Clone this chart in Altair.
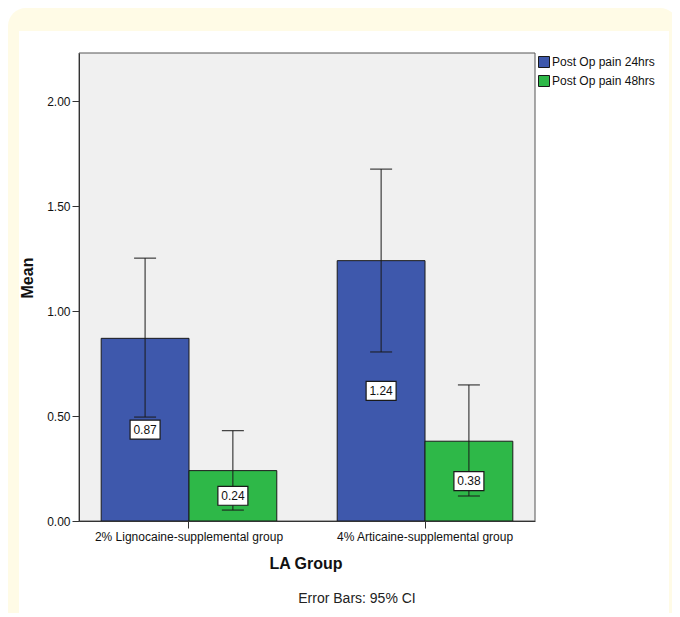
import altair as alt
import pandas as pd

groups = ["2% Lignocaine-supplemental group", "4% Articaine-supplemental group"]
series = ["Post Op pain 24hrs", "Post Op pain 48hrs"]
means_24 = [0.87, 1.24]
means_48 = [0.24, 0.38]
ci_low_24 = [0.495, 0.805]
ci_high_24 = [1.252, 1.676]
ci_low_48 = [0.052, 0.119]
ci_high_48 = [0.43, 0.648]
y_ticks = [0, 0.5, 1.0, 1.5, 2.0]

rows = []
for i, g in enumerate(groups):
    rows.append(dict(group=g, series=series[0], mean=means_24[i], lo=ci_low_24[i], hi=ci_high_24[i]))
    rows.append(dict(group=g, series=series[1], mean=means_48[i], lo=ci_low_48[i], hi=ci_high_48[i]))
df = pd.DataFrame(rows)

BLUE = "#3e58ac"
GREEN = "#2eb848"
GRAY = "#f0f0f0"
YELLOW = "#fffbe6"
INK = "#1a1a1a"
W, H = 456, 468

x = alt.X("group:N", sort=groups,
          scale=alt.Scale(paddingInner=0.256, paddingOuter=0.094),
          axis=alt.Axis(title=None, labelAngle=0, labelFontSize=12, tickSize=7,
                        labelPadding=3, labelLimit=0, domainColor="#333", tickColor="#333",
                        labelColor="#111", zindex=1))
xo = alt.XOffset("series:N", sort=series)
y = alt.Y("mean:Q", scale=alt.Scale(domain=[0, 2.229], nice=False, zero=True),
          axis=alt.Axis(title=None, values=y_ticks, format=".2f", tickSize=7,
                        labelPadding=2, labelFontSize=12, domainColor="#333",
                        tickColor="#333", labelColor="#111", grid=False, zindex=1))

one = pd.DataFrame({"a": [0]})

yellow = alt.Chart(one).mark_rect(color=YELLOW, cornerRadius=18).encode(
    x=alt.value(-71), x2=alt.value(599), y=alt.value(-45), y2=alt.value(660))
white = alt.Chart(one).mark_rect(color="white").encode(
    x=alt.value(-60), x2=alt.value(590), y=alt.value(-22), y2=alt.value(680))
gray = alt.Chart(one).mark_rect(fill=GRAY, stroke="#555", strokeWidth=1).encode(
    x=alt.value(0), x2=alt.value(W), y=alt.value(0), y2=alt.value(H))

base = alt.Chart(df)

bars = base.mark_bar(stroke=INK, strokeWidth=1).encode(
    x=x, xOffset=xo, y=y,
    color=alt.Color("series:N", sort=series,
                    scale=alt.Scale(domain=series, range=[BLUE, GREEN]),
                    legend=alt.Legend(title=None, orient="none", legendX=459, legendY=3,
                                      symbolType="square", symbolSize=121,
                                      symbolStrokeColor=INK, symbolStrokeWidth=1,
                                      labelFontSize=12, labelOffset=2, rowPadding=3,
                                      padding=0, zindex=1, labelColor="#111")))

errs = base.mark_rule(color=INK, strokeWidth=1).encode(
    x=x, xOffset=xo, y=alt.Y("lo:Q"), y2="hi:Q")

caps_hi = base.mark_point(shape="M-1,0L1,0", size=484, stroke=INK, strokeWidth=1,
                          filled=False, opacity=1).encode(x=x, xOffset=xo, y="hi:Q")
caps_lo = base.mark_point(shape="M-1,0L1,0", size=484, stroke=INK, strokeWidth=1,
                          filled=False, opacity=1).encode(x=x, xOffset=xo, y="lo:Q")

boxes = base.transform_calculate(mid="datum.mean/2").mark_point(
    shape="M-1,-0.63L1,-0.63L1,0.63L-1,0.63Z", size=900, filled=True,
    fill="white", stroke=INK, strokeWidth=1.2, opacity=1).encode(
    x=x, xOffset=xo, y="mid:Q")

labels = base.transform_calculate(
    mid="datum.mean/2", lab="format(datum.mean, '.2f')").mark_text(
    fontSize=12, color="#111").encode(x=x, xOffset=xo, y="mid:Q", text="lab:N")

t_x = alt.Chart(pd.DataFrame({"t": ["LA Group"]})).mark_text(
    fontSize=16, fontWeight="bold", color="#111").encode(
    text="t:N", x=alt.value(227), y=alt.value(511))
t_y = alt.Chart(pd.DataFrame({"t": ["Mean"]})).mark_text(
    fontSize=16, fontWeight="bold", color="#111", angle=270).encode(
    text="t:N", x=alt.value(-51), y=alt.value(225))
t_note = alt.Chart(pd.DataFrame({"t": ["Error Bars: 95% CI"]})).mark_text(
    fontSize=14, color="#222").encode(
    text="t:N", x=alt.value(278), y=alt.value(546))

chart = alt.layer(
    yellow, white, gray, bars, errs, caps_hi, caps_lo, boxes, labels, t_x, t_y, t_note
).properties(
    width=W, height=H,
    autosize=alt.AutoSizeParams(type="none"),
    padding={"left": 71, "top": 45, "right": 137, "bottom": 92},
    background="white",
).configure(font="Liberation Sans").configure_view(stroke=None)

chart.save("out.html", embed_options={"renderer": "svg", "actions": False})
